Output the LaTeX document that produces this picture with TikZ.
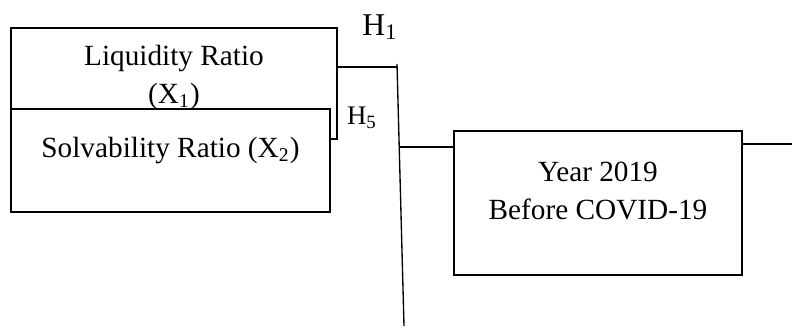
\documentclass[tikz,border=0pt]{standalone}
\usepackage{fontspec}
\setmainfont{Liberation Serif}
\usepackage{tikz}
\usetikzlibrary{
  positioning,
  calc
}
\tikzset{
    ratiobox/.style={draw, fill=white, line width=0.85pt, inner sep=0pt},
    boxtext/.style={align=center, inner sep=0pt, font=\fontsize{12}{15.5}\selectfont},
    hlabel/.style={inner sep=0pt},
    link/.style={line width=0.55pt}
}

\begin{document}
\begin{tikzpicture}[x=0.41pt, y=-0.41pt]
    \useasboundingbox (0,0) rectangle (792,333);
    % ratio boxes on the left
    \node[ratiobox, minimum width=133.7pt, minimum height=45.5pt] (liq) at (174,83.5) {};
    \node[boxtext] (liqtxt) at ([yshift=2.4pt]liq.center) {Liquidity Ratio\\(X\textsubscript{1})};
    \node[ratiobox, minimum width=130.8pt, minimum height=42.2pt] (solv) at (170.5,160.5) {};
    \node[boxtext] (solvtxt) at ([yshift=4.1pt]solv.center) {Solvability Ratio (X\textsubscript{2})};
    % year box
    \node[ratiobox, minimum width=118.1pt, minimum height=59pt] (year) at (598,203) {};
    \node[boxtext] (yeartxt) at ([yshift=4.9pt]year.center) {Year 2019\\Before COVID-19};
    % hypothesis labels
    \node[hlabel, font=\fontsize{13}{15}\selectfont] (h1) at (380,27) {H\textsubscript{1}};
    \node[hlabel, font=\fontsize{11}{13}\selectfont] (h5) at (362,118) {H\textsubscript{5}};
    % connectors
    \coordinate (vtop) at (397,64);
    \coordinate (vbot) at (404,326);
    \coordinate (j1) at (397,67);
    \coordinate (j2) at (399,147);
    \coordinate (rend) at (792,144);
    \draw[link] (vtop) -- (vbot);
    \draw[link] (liq.east |- j1) -- (j1);
    \draw[link] (j2) -- (year.west |- j2);
    \draw[link] (year.east |- rend) -- (rend);
\end{tikzpicture}
\end{document}
